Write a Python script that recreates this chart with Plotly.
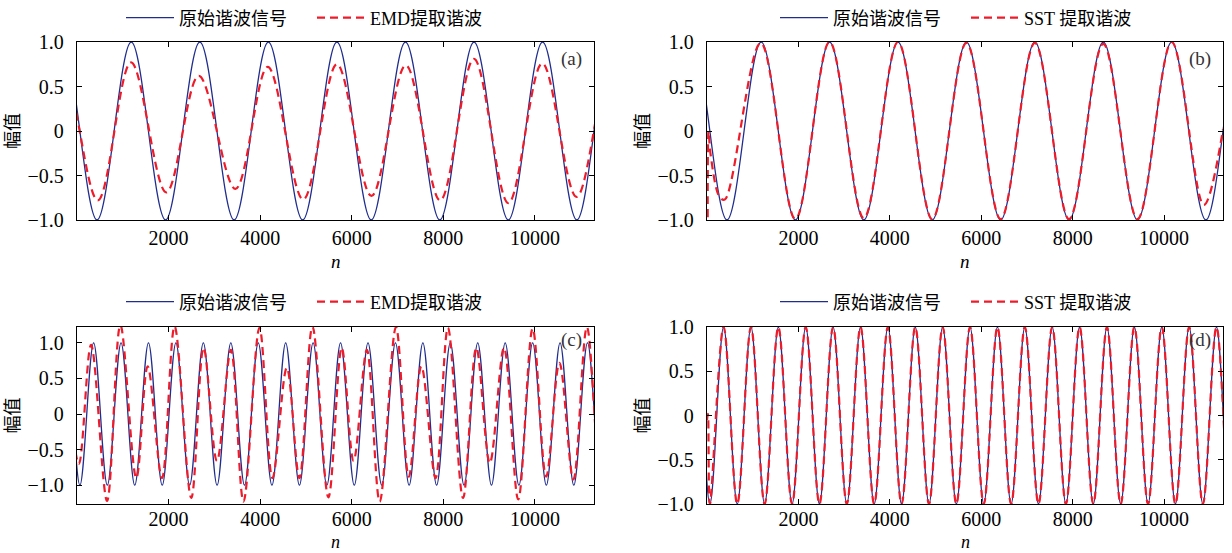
import plotly.graph_objects as go

# ---------------- data (extrema) ----------------
X_MAX = 11290

# original harmonic signal, panels (a)/(b): peak / trough positions and values
orig_ab_n = [-1061, -312, 437, 1185, 1934, 2682, 3431, 4179, 4928, 5676, 6425,
             7173, 7922, 8670, 9419, 10167, 10916, 11664, 12413]
orig_ab_v = [-1, 1, -1, 1, -1, 1, -1, 1, -1, 1, -1, 1, -1, 1, -1, 1, -1, 1, -1]

# EMD extracted harmonic, panel (a)
emd_a_n = [-1061, -312, 453, 1180, 1950, 2660, 3460, 4165, 4940, 5676, 6430,
           7180, 7930, 8668, 9420, 10160, 10910, 11664, 12413]
emd_a_v = [-0.75, 0.70, -0.78, 0.77, -0.69, 0.62, -0.65, 0.72, -0.77, 0.75,
           -0.73, 0.74, -0.78, 0.81, -0.81, 0.76, -0.74, 0.75, -0.75]

# SST extracted harmonic, panel (b)
sst_b_n = [15, 35, 80, 275, 390, 1175, 1934, 2682, 3431, 4179, 4928, 5676, 6425,
           7173, 7922, 8670, 9419, 10167, 10870, 11290]
sst_b_v = [-0.97, 0.0, -0.27, -0.74, -0.77, 0.99, -0.99, 1.0, -0.98, 1.0, -0.99,
           0.99, -0.99, 0.99, -0.99, 0.98, -0.99, 1.0, -0.83, 0.02]

# original harmonic signal, panels (c)/(d)
orig_cd_n = [-536, -237, 63, 363, 662, 962, 1261, 1561, 1861, 2160, 2460, 2759,
             3059, 3359, 3658, 3958, 4257, 4557, 4857, 5156, 5456, 5755,
             6055, 6355, 6654, 6954, 7253, 7553, 7853, 8152, 8452, 8751,
             9051, 9351, 9650, 9950, 10249, 10549, 10849, 11148, 11448, 11747]
orig_cd_v = [-1, 1, -1, 1, -1, 1, -1, 1, -1, 1, -1, 1, -1, 1, -1, 1, -1, 1, -1,
             1, -1, 1, -1, 1, -1, 1, -1, 1, -1, 1, -1, 1, -1, 1, -1, 1, -1,
             1, -1, 1, -1, 1]

# EMD extracted harmonic, panel (c)
emd_c_n = [-260, 40, 307, 656, 947, 1295, 1543, 1856, 2131, 2495, 2764, 3056,
           3361, 3636, 3985, 4268, 4582, 4857, 5141, 5490, 5781, 6040, 6330,
           6610, 6965, 7245, 7520, 7830, 8100, 8430, 8720, 9015, 9325, 9635,
           9950, 10245, 10535, 10840, 11135, 11440, 11740]
emd_c_v = [0.93, -0.70, 0.97, -1.22, 1.25, -0.90, 0.67, -0.90, 1.23, -1.18, 0.93,
           -0.66, 0.90, -1.23, 1.21, -0.90, 0.65, -0.90, 1.23, -1.17, 0.93,
           -0.66, 0.90, -1.23, 1.22, -0.88, 0.67, -0.90, 1.21, -1.18, 0.93,
           -0.69, 0.93, -1.20, 1.20, -0.88, 0.72, -0.92, 1.22, -0.90, 0.90]

# SST extracted harmonic, panel (d)
sst_d_n = [0, 20, 63, 363, 662, 962, 1261, 1561, 1861, 2160, 2460, 2759,
           3059, 3359, 3658, 3958, 4257, 4557, 4857, 5156, 5456, 5755,
           6055, 6355, 6654, 6954, 7253, 7553, 7853, 8152, 8452, 8751,
           9051, 9351, 9650, 9950, 10249, 10549, 10849, 11148, 11448, 11747]
sst_d_v = [-0.05, 0.02, -1, 1, -1, 1, -1, 1, -1, 1, -1, 1, -1, 1, -1, 1, -1, 1, -1,
           1, -1, 1, -1, 1, -1, 1, -1, 1, -1, 1, -1, 1, -1, 1, -1, 1, -1,
           1, -1, 1, -1, 1]

x_tick_vals = [2000, 4000, 6000, 8000, 10000]
x_tick_text = ["2000", "4000", "6000", "8000", "10000"]
y_tick_vals = [-1, -0.5, 0, 0.5, 1]
y_tick_text = ["\u22121.0", "\u22120.5", "0", "0.5", "1.0"]

name_orig = "原始谐波信号"
name_emd = "EMD提取谐波"
name_sst = "SST 提取谐波"
panel_labels = ["(a)", "(b)", "(c)", "(d)"]
x_title = "<i>n</i>"
y_title = "幅值"

# ---------------- styling ----------------
BLUE = "#1f2d8e"
RED = "#ee1c2a"
FONT_FAM = "Liberation Serif, Noto Sans CJK SC, serif"
TICK_FONT = dict(family=FONT_FAM, size=20, color="black")
LEG_FONT = dict(family=FONT_FAM, size=18, color="black")

fig = go.Figure()

panels = [
    ("x", "y", "legend", orig_ab_n, orig_ab_v, emd_a_n, emd_a_v, name_emd),
    ("x2", "y2", "legend2", orig_ab_n, orig_ab_v, sst_b_n, sst_b_v, name_sst),
    ("x3", "y3", "legend3", orig_cd_n, orig_cd_v, emd_c_n, emd_c_v, name_emd),
    ("x4", "y4", "legend4", orig_cd_n, orig_cd_v, sst_d_n, sst_d_v, name_sst),
]

for xa, ya, lg, bn, bv, rn, rv, rname in panels:
    fig.add_trace(go.Scatter(
        x=bn, y=bv, mode="lines", name=name_orig, xaxis=xa, yaxis=ya, legend=lg,
        line=dict(color=BLUE, width=1.3, shape="spline", smoothing=1.0)))
    fig.add_trace(go.Scatter(
        x=rn, y=rv, mode="lines", name=rname, xaxis=xa, yaxis=ya, legend=lg,
        line=dict(color=RED, width=2.2, dash="8px,5px", shape="spline", smoothing=1.0)))

W, H = 1232, 553
dom_x_left = [77 / W, 594 / W]
dom_x_right = [707 / W, 1223 / W]
dom_y_top = [1 - 220 / H, 1 - 42 / H]
dom_y_bot = [1 - 504 / H, 1 - 327 / H]


def xaxis_cfg(domain, anchor, label_standoff):
    return dict(domain=domain, anchor=anchor, range=[0, X_MAX],
                tickvals=x_tick_vals, ticktext=x_tick_text,
                ticks="inside", ticklen=5, tickwidth=1, tickcolor="black",
                showline=True, linecolor="black", linewidth=1.3, mirror="ticks",
                showgrid=False, zeroline=False, tickfont=TICK_FONT,
                ticklabelstandoff=label_standoff)


def yaxis_cfg(domain, anchor, rng):
    return dict(domain=domain, anchor=anchor, range=rng,
                tickvals=y_tick_vals, ticktext=y_tick_text,
                ticks="inside", ticklen=5, tickwidth=1, tickcolor="black",
                showline=True, linecolor="black", linewidth=1.3, mirror="ticks",
                showgrid=False, zeroline=False, tickfont=TICK_FONT,
                ticklabelstandoff=8,
                title=dict(text=y_title, font=dict(family=FONT_FAM, size=18, color="black"),
                           standoff=3))


def legend_cfg(xc, yc):
    return dict(orientation="h", xref="container", yref="container",
                x=xc, xanchor="center", y=yc, yanchor="middle",
                font=LEG_FONT, bgcolor="rgba(0,0,0,0)", itemwidth=48,
                entrywidth=128, tracegroupgap=0)


fig.update_layout(
    width=W, height=H, margin=dict(l=0, r=0, t=0, b=0, autoexpand=False),
    paper_bgcolor="white", plot_bgcolor="white", showlegend=True,
    xaxis=xaxis_cfg(dom_x_left, "y", 0),
    yaxis=yaxis_cfg(dom_y_top, "x", [-1, 1]),
    xaxis2=xaxis_cfg(dom_x_right, "y2", 0),
    yaxis2=yaxis_cfg(dom_y_top, "x2", [-1, 1]),
    xaxis3=xaxis_cfg(dom_x_left, "y3", -3),
    yaxis3=yaxis_cfg(dom_y_bot, "x3", [-1.264, 1.222]),
    xaxis4=xaxis_cfg(dom_x_right, "y4", -3),
    yaxis4=yaxis_cfg(dom_y_bot, "x4", [-1, 1]),
    legend=legend_cfg(312 / W, 1 - 18 / H),
    legend2=legend_cfg(966 / W, 1 - 18 / H),
    legend3=legend_cfg(312 / W, 1 - 302 / H),
    legend4=legend_cfg(966 / W, 1 - 302 / H),
)

# x-axis titles (n) below each panel
for xr, yr, ys, fs in [("x domain", "y domain", -41, 19), ("x2 domain", "y2 domain", -41, 19),
                       ("x3 domain", "y3 domain", -37.5, 18), ("x4 domain", "y4 domain", -37.5, 18)]:
    fig.add_annotation(text=x_title, xref=xr, yref=yr, x=0.5, y=0, xanchor="center",
                       yanchor="middle", yshift=ys, showarrow=False, borderpad=0,
                       font=dict(family=FONT_FAM, size=fs, color="black"))

# panel labels
label_pos = [("x domain", "y domain", -10, -4), ("x2 domain", "y2 domain", -10, -4),
             ("x3 domain", "y3 domain", -10, 0), ("x4 domain", "y4 domain", -10, 0)]
for txt, (xr, yr, xs, ys) in zip(panel_labels, label_pos):
    fig.add_annotation(text=txt, xref=xr, yref=yr, x=1, y=1, xanchor="right",
                       yanchor="top", xshift=xs, yshift=ys, showarrow=False,
                       font=dict(family=FONT_FAM, size=19, color="#333333"))

fig.write_html("out.html")
